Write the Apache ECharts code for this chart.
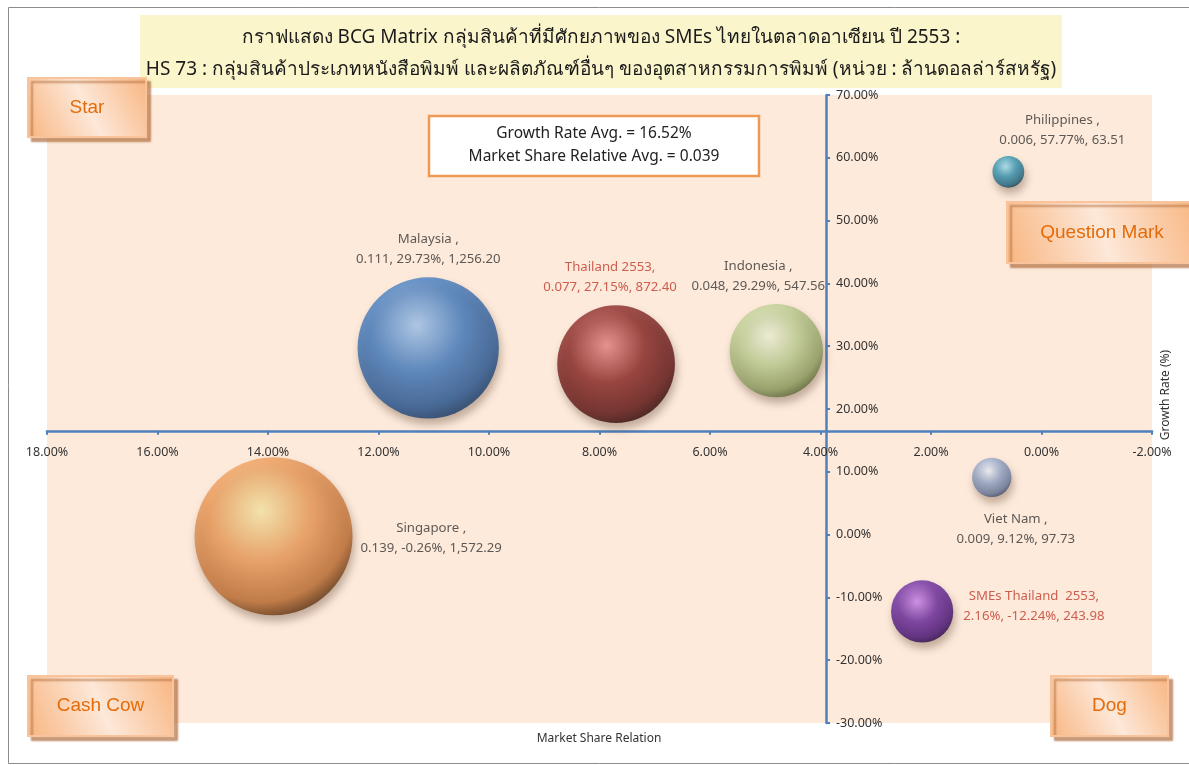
<!DOCTYPE html>
<html>
<head>
<meta charset="utf-8">
<script src="https://cdn.jsdelivr.net/npm/echarts@6/dist/echarts.min.js"></script>
<style>
  html, body { margin: 0; padding: 0; background: #ffffff; }
  #chart { width: 1189px; height: 765px; }
</style>
</head>
<body>
<div id="chart"></div>
<script>
// BCG matrix: relative market share (x), growth rate (y), export value (bubble size)
const countries   = ['Malaysia', 'Thailand 2553', 'Indonesia', 'Philippines', 'Viet Nam', 'Singapore', 'SMEs Thailand  2553'];
const shareRatio  = [0.111, 0.077, 0.048, 0.006, 0.009, 0.139, 0.0216];
const growthRate  = [29.73, 27.15, 29.29, 57.77, 9.12, -0.26, -12.24];
const exportValue = [1256.20, 872.40, 547.56, 63.51, 97.73, 1572.29, 243.98];
const shareAsPercent = [false, false, false, false, false, false, true];

// Averages used as the quadrant dividers
const avgGrowth = 16.52;
const avgShare  = 0.039;

// Axis scales (percent)
const shareTicks  = [-2, 0, 2, 4, 6, 8, 10, 12, 14, 16, 18];
const growthTicks = [-30, -20, -10, 0, 10, 20, 30, 40, 50, 60, 70];

const titleLines = [
  'กราฟแสดง BCG Matrix กลุ่มสินค้าที่มีศักยภาพของ SMEs ไทยในตลาดอาเซียน ปี 2553 :',
  'HS 73 : กลุ่มสินค้าประเภทหนังสือพิมพ์ และผลิตภัณฑ์อื่นๆ ของอุตสาหกรรมการพิมพ์ (หน่วย : ล้านดอลล่าร์สหรัฐ)'
];

// Sphere colours: [highlight, base, rim, edge]
const sphereColors = [
  ['#a9cdf6', '#4780c4', '#2b5a96', '#10305a'],
  ['#ee8c8c', '#8e2c2a', '#621817', '#220505'],
  ['#f7fbe2', '#c0d296', '#8fa062', '#4a5528'],
  ['#a5e4f4', '#3896b4', '#216a84', '#0b2e3b'],
  ['#f4f7ff', '#95a8ca', '#687a9c', '#303a50'],
  ['#fff0b0', '#f09e5c', '#c07035', '#3e1e04'],
  ['#cf8cf2', '#6e2ea2', '#4b167a', '#1c0436']
];
const labelColors = ['#333333', '#c0392b', '#333333', '#333333', '#333333', '#333333', '#c0392b'];
const labelPos    = ['top', 'top', 'top', 'top', 'bottom', 'right', 'right'];
const labelShift  = [[0, 0], [-6, 0], [-18, 0], [54, 2], [24, 4], [0, 2], [2, -5]];

const FONT = '"Noto Sans", "DejaVu Sans", sans-serif';
const LABEL_SIZE = 13.2;
const GRID = { left: 47, right: 37, top: 95, bottom: 42 };
const MAX_DIAMETER = 158;
const maxValue = Math.max.apply(null, exportValue);

const chart = echarts.init(document.getElementById('chart'), null, { renderer: 'canvas' });
const W = chart.getWidth(), H = chart.getHeight();
const plotW = W - GRID.left - GRID.right;
const plotH = H - GRID.top - GRID.bottom;
const xMin = shareTicks[0], xMax = shareTicks[shareTicks.length - 1];
const yMin = growthTicks[0], yMax = growthTicks[growthTicks.length - 1];
// axes cross at the averages
const xAxisOffset = -((avgGrowth - yMin) / (yMax - yMin)) * plotH;
const yAxisOffset = -((avgShare * 100 - xMin) / (xMax - xMin)) * plotW;

// text measuring for labels placed beside a bubble
const measureCtx = document.createElement('canvas').getContext('2d');
measureCtx.font = LABEL_SIZE + 'px ' + FONT;
function textWidth(lines) {
  return Math.max.apply(null, lines.map(function (l) { return measureCtx.measureText(l).width; }));
}

function sphere(c) {
  return new echarts.graphic.RadialGradient(0.42, 0.34, 0.72, [
    { offset: 0, color: c[0] },
    { offset: 0.45, color: c[1] },
    { offset: 0.8, color: c[2] },
    { offset: 1, color: c[3] }
  ]);
}

function fmtNum(v) {
  return v.toLocaleString('en-US', { minimumFractionDigits: 2, maximumFractionDigits: 2 });
}

const data = countries.map(function (name, i) {
  const sep = name.indexOf('2553') >= 0 ? ',' : ' ,';
  const shareTxt = shareAsPercent[i] ? (shareRatio[i] * 100).toFixed(2) + '%' : shareRatio[i].toFixed(3);
  const lines = [name + sep, shareTxt + ', ' + growthRate[i].toFixed(2) + '%, ' + fmtNum(exportValue[i])];
  const shift = labelShift[i].slice();
  if (labelPos[i] === 'right') shift[0] += textWidth(lines) / 2;
  return {
    name: name,
    value: [shareRatio[i] * 100, growthRate[i], exportValue[i]],
    itemStyle: {
      color: sphere(sphereColors[i]),
      shadowBlur: 8, shadowOffsetX: 2, shadowOffsetY: 6, shadowColor: 'rgba(60,30,10,0.4)'
    },
    label: {
      show: true,
      position: labelPos[i],
      distance: 8,
      offset: shift,
      align: 'center',
      color: labelColors[i],
      fontFamily: FONT,
      fontSize: LABEL_SIZE,
      lineHeight: 20,
      formatter: lines.join('\n')
    }
  };
});

function cornerBox(text, x, y, w, h) {
  return {
    type: 'group', z: 100,
    children: [
      { type: 'rect', shape: { x: x, y: y, width: w, height: h },
        style: {
          fill: { type: 'linear', x: 0, y: 1, x2: 1, y2: 0, colorStops: [
            { offset: 0, color: '#f8b580' }, { offset: 0.5, color: '#fde8d9' }, { offset: 1, color: '#f8b580' } ] },
          stroke: '#f9c39c', lineWidth: 2,
          shadowBlur: 2, shadowOffsetX: 4, shadowOffsetY: 4, shadowColor: 'rgba(170,100,50,0.6)'
        } },
      { type: 'text', x: x + w / 2, y: y + h / 2,
        style: { text: text, fill: '#e46c0a', fontSize: 19, fontFamily: '"Liberation Sans", Arial, sans-serif',
                 align: 'center', verticalAlign: 'middle' } }
    ]
  };
}

const option = {
  backgroundColor: '#ffffff',
  animation: false,
  grid: { left: GRID.left, right: GRID.right, top: GRID.top, bottom: GRID.bottom,
          show: true, backgroundColor: '#fdeadb', borderWidth: 0 },
  xAxis: {
    type: 'value', min: xMin, max: xMax, interval: shareTicks[1] - shareTicks[0], inverse: true,
    position: 'bottom', offset: xAxisOffset,
    axisLine: { onZero: false, lineStyle: { color: '#4f81bd', width: 2.5 } },
    axisTick: { show: true, length: 4, lineStyle: { color: '#4f81bd', width: 2 } },
    axisLabel: { margin: 15, color: '#333333', fontSize: 12.5, fontFamily: FONT,
                 formatter: function (v) { return v.toFixed(2) + '%'; } },
    splitLine: { show: false }
  },
  yAxis: {
    type: 'value', min: yMin, max: yMax, interval: growthTicks[1] - growthTicks[0],
    position: 'right', offset: yAxisOffset,
    axisLine: { onZero: false, lineStyle: { color: '#4f81bd', width: 2.5 } },
    axisTick: { show: true, length: 4, lineStyle: { color: '#4f81bd', width: 2 } },
    axisLabel: { margin: 10, color: '#333333', fontSize: 12.5, fontFamily: FONT,
                 formatter: function (v) { return v.toFixed(2) + '%'; } },
    splitLine: { show: false }
  },
  series: [{
    type: 'scatter',
    symbol: 'circle',
    symbolSize: function (v) { return MAX_DIAMETER * Math.sqrt(v[2] / maxValue); },
    data: data,
    z: 5
  }],
  graphic: [
    { type: 'rect', z: -10, silent: true, shape: { x: 8.5, y: 7.5, width: 1200, height: 756 },
      style: { fill: 'none', stroke: '#8c8c8c', lineWidth: 1 } },
    { type: 'group', z: 50, children: [
      { type: 'rect', shape: { x: 140, y: 15, width: 922, height: 73 }, style: { fill: '#fbf5cc' } },
      { type: 'text', x: 601, y: 38, style: { text: titleLines[0], fill: '#1a1a1a', fontSize: 19, fontFamily: FONT,
          align: 'center', verticalAlign: 'middle' } },
      { type: 'text', x: 601, y: 70, style: { text: titleLines[1], fill: '#1a1a1a', fontSize: 19, fontFamily: FONT,
          align: 'center', verticalAlign: 'middle' } }
    ] },
    { type: 'group', z: 50, children: [
      { type: 'rect', shape: { x: 429, y: 116, width: 330, height: 60 },
        style: { fill: '#ffffff', stroke: '#ee9a55', lineWidth: 2.5 } },
      { type: 'text', x: 594, y: 134, style: { text: 'Growth Rate Avg. = ' + avgGrowth.toFixed(2) + '%', fill: '#222222',
          fontSize: 15.5, fontFamily: FONT, align: 'center', verticalAlign: 'middle' } },
      { type: 'text', x: 594, y: 157, style: { text: 'Market Share Relative Avg. = ' + avgShare.toFixed(3), fill: '#222222',
          fontSize: 15.5, fontFamily: FONT, align: 'center', verticalAlign: 'middle' } }
    ] },
    cornerBox('Star', 28, 78, 118, 59),
    cornerBox('Question Mark', 1007, 202, 190, 61),
    cornerBox('Cash Cow', 28, 676, 145, 60),
    cornerBox('Dog', 1051, 676, 117, 60),
    { type: 'text', x: 599, y: 739, z: 50,
      style: { text: 'Market Share Relation', fill: '#333333', fontSize: 12, fontFamily: FONT,
               align: 'center', verticalAlign: 'middle' } },
    { type: 'text', x: 1166, y: 395, rotation: Math.PI / 2, z: 50,
      style: { text: 'Growth Rate (%)', fill: '#333333', fontSize: 12, fontFamily: FONT,
               align: 'center', verticalAlign: 'middle' } }
  ]
};

chart.setOption(option);
</script>
</body>
</html>
